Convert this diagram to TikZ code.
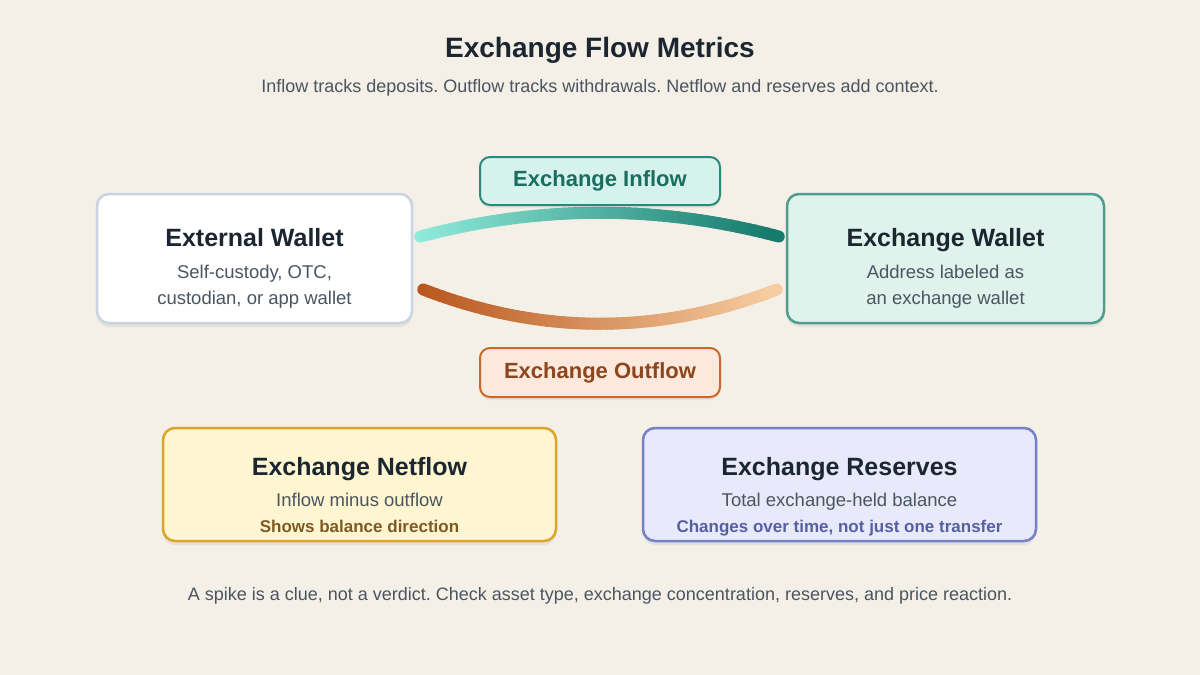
\documentclass[tikz,border=0pt]{standalone}
\usepackage{fontspec}
\setmainfont{Liberation Sans}
\usepackage{xcolor}
\usetikzlibrary{calc,shadows}
\frenchspacing
\definecolor{paper}{RGB}{244,239,231}
\definecolor{ink}{RGB}{28,38,48}
\definecolor{muted}{RGB}{74,85,96}
\definecolor{extline}{RGB}{200,213,224}
\definecolor{exwfill}{RGB}{224,242,236}
\definecolor{exwline}{RGB}{78,158,144}
\definecolor{infill}{RGB}{214,242,236}
\definecolor{inline}{RGB}{42,138,122}
\definecolor{intext}{RGB}{25,110,96}
\definecolor{inlight}{RGB}{144,236,220}
\definecolor{indark}{RGB}{22,122,108}
\definecolor{outfill}{RGB}{252,232,220}
\definecolor{outline}{RGB}{200,105,42}
\definecolor{outtext}{RGB}{140,70,30}
\definecolor{outdark}{RGB}{184,86,28}
\definecolor{outlight}{RGB}{246,204,160}
\definecolor{netfill}{RGB}{255,245,208}
\definecolor{netline}{RGB}{218,165,40}
\definecolor{nettext}{RGB}{125,90,35}
\definecolor{resfill}{RGB}{232,234,252}
\definecolor{resline}{RGB}{116,128,200}
\definecolor{restext}{RGB}{85,96,160}

\begin{document}
\begin{tikzpicture}[x=1pt, y=-1pt,
    card/.style={draw, rounded corners=12pt, line width=2.5pt, inner sep=0pt,
                 drop shadow={shadow xshift=0pt, shadow yshift=-4pt, opacity=0.06, fill=black}},
    tag/.style={draw, rounded corners=10pt, line width=2pt, inner sep=0pt,
                minimum width=240pt, font=\bfseries\fontsize{22}{26}\selectfont,
                drop shadow={shadow xshift=0pt, shadow yshift=-3pt, opacity=0.05, fill=black}},
    head/.style={anchor=base, text=ink, font=\bfseries\fontsize{25}{30}\selectfont},
    body/.style={anchor=base, text=muted, font=\fontsize{18.5}{26}\selectfont},
    hint/.style={anchor=base, font=\bfseries\fontsize{17}{20}\selectfont},
    note/.style={anchor=base, text=muted, font=\fontsize{18}{22}\selectfont}
]
\useasboundingbox[fill=paper] (0,0) rectangle (1200,675);

\node[anchor=base, text=ink, font=\bfseries\fontsize{28}{34}\selectfont] (title) at (600,57) {Exchange Flow Metrics};
\node[note] (subtitle) at (600,92) {Inflow tracks deposits. Outflow tracks withdrawals. Netflow and reserves add context.};

% wallets
\node[card, draw=extline, fill=white, minimum width=315pt, minimum height=129pt] (ext) at (254.5,258.5) {};
\node[head] (extT) at (254.5,246) {External Wallet};
\node[body] (extS1) at (254.5,278) {Self-custody, OTC,};
\node[body] (extS2) at (254.5,304) {custodian, or app wallet};

\node[card, draw=exwline, fill=exwfill, minimum width=317pt, minimum height=129pt] (exw) at (945.5,258.5) {};
\node[head] (exwT) at (945.5,246) {Exchange Wallet};
\node[body] (exwS1) at (945.5,278) {Address labeled as};
\node[body] (exwS2) at (945.5,304) {an exchange wallet};

% flows
\coordinate (inA) at ($(ext.east)+(7,-22)$);
\coordinate (inB) at ($(exw.west)+(-7,-22)$);
\coordinate (inC) at (600,189);
\coordinate (outA) at ($(ext.east)+(10,31)$);
\coordinate (outB) at ($(exw.west)+(-9,31)$);
\coordinate (outC) at (600,358);
\foreach \i in {0,...,59} {
  \pgfmathsetmacro\ta{\i/60}
  \pgfmathsetmacro\tb{(\i+1)/60}
  \pgfmathtruncatemacro\pc{100-100*(\i+0.5)/60}
  \draw[line width=12pt, line cap=round, color=inlight!\pc!indark]
    ($($(inA)!\ta!(inC)$)!\ta!($(inC)!\ta!(inB)$)$) -- ($($(inA)!\tb!(inC)$)!\tb!($(inC)!\tb!(inB)$)$);
  \draw[line width=12pt, line cap=round, color=outdark!\pc!outlight]
    ($($(outA)!\ta!(outC)$)!\ta!($(outC)!\ta!(outB)$)$) -- ($($(outA)!\tb!(outC)$)!\tb!($(outC)!\tb!(outB)$)$);
}

\node[tag, draw=inline, fill=infill, text=intext, minimum height=48pt] (inflow) at (600,181) {Exchange Inflow};
\node[tag, draw=outline, fill=outfill, text=outtext, minimum height=49pt] (outflow) at (600,372.5) {Exchange Outflow};

% metrics
\node[card, draw=netline, fill=netfill, minimum width=393pt, minimum height=113pt] (net) at (359.5,484.5) {};
\node[head] (netT) at (359.5,475) {Exchange Netflow};
\node[body] (netS) at (359.5,506) {Inflow minus outflow};
\node[hint, text=nettext] (netH) at (359.5,532) {Shows balance direction};

\node[card, draw=resline, fill=resfill, minimum width=393pt, minimum height=113pt] (res) at (839.5,484.5) {};
\node[head] (resT) at (839.5,475) {Exchange Reserves};
\node[body] (resS) at (839.5,506) {Total exchange-held balance};
\node[hint, text=restext] (resH) at (839.5,532) {Changes over time, not just one transfer};

\node[note] (footer) at (600,600) {A spike is a clue, not a verdict. Check asset type, exchange concentration, reserves, and price reaction.};
\end{tikzpicture}
\end{document}
